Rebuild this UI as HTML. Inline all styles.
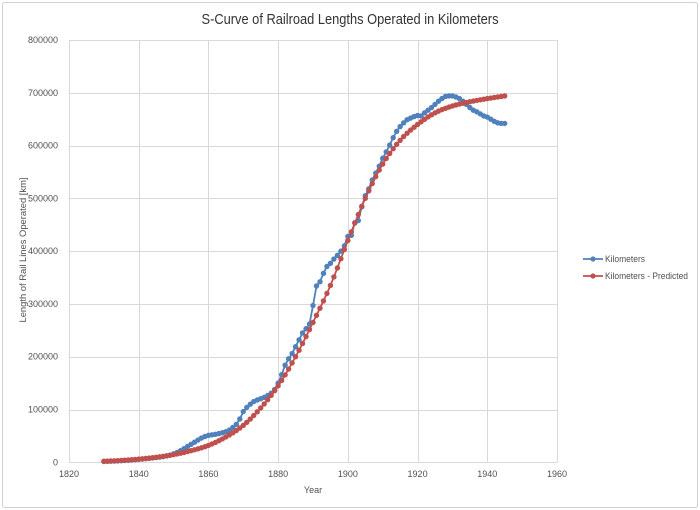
<!DOCTYPE html>
<html>
<head>
<meta charset="utf-8">
<style>
  html,body{margin:0;padding:0;background:#fff;}
  svg{display:block;}
  text{font-family:"Liberation Sans",Arial,sans-serif;}
</style>
</head>
<body>
<svg id="chart" width="700" height="510" viewBox="0 0 700 510" xmlns="http://www.w3.org/2000/svg">
  <rect x="0" y="0" width="700" height="510" fill="#ffffff"/>
  <rect x="2.5" y="2.5" width="695" height="505" rx="2" fill="#ffffff" stroke="#d0d0d0" stroke-width="1"/>
  <text x="350" y="24" font-size="15" fill="#333333" text-anchor="middle" textLength="297" lengthAdjust="spacingAndGlyphs">S-Curve of Railroad Lengths Operated in Kilometers</text>

  <g id="grid" stroke="#d9d9d9" stroke-width="1" fill="none"></g>
  <g id="ylabels" font-size="9" fill="#505050" text-anchor="end"></g>
  <g id="xlabels" font-size="9" fill="#505050" text-anchor="middle"></g>

  <text x="313" y="493" font-size="9" fill="#505050" text-anchor="middle">Year</text>
  <text transform="translate(26,250) rotate(-90)" font-size="9.5" fill="#505050" text-anchor="middle" textLength="145" lengthAdjust="spacingAndGlyphs">Length of Rail Lines Operated [km]</text>

  <g id="series"></g>

  <!-- legend -->
  <line x1="583" y1="259" x2="603" y2="259" stroke="#4F81BD" stroke-width="1.8"/>
  <circle cx="593" cy="259" r="2.6" fill="#4F81BD"/>
  <text x="605" y="262" font-size="9" fill="#505050" textLength="40" lengthAdjust="spacingAndGlyphs">Kilometers</text>
  <line x1="583" y1="276" x2="603" y2="276" stroke="#C0504D" stroke-width="1.8"/>
  <circle cx="593" cy="276" r="2.6" fill="#C0504D"/>
  <text x="605" y="279" font-size="9" fill="#505050" textLength="83" lengthAdjust="spacingAndGlyphs">Kilometers - Predicted</text>
</svg>
<script>
(function(){
  var NS="http://www.w3.org/2000/svg";
  function el(tag,attrs,parent,txt){var e=document.createElementNS(NS,tag);for(var k in attrs)e.setAttribute(k,attrs[k]);if(txt!=null)e.textContent=txt;parent.appendChild(e);return e;}
  var X=function(y){return 69+(y-1820)*488/140;};
  var Y=function(v){return 462.3-v*422.3/800000;};
  var grid=document.getElementById('grid');
  var yl=document.getElementById('ylabels');
  var xl=document.getElementById('xlabels');
  for(var v=0;v<=800000;v+=100000){
    var yy=Math.round(Y(v))+0.5;
    el('line',{x1:69,y1:yy,x2:557,y2:yy},grid);
    el('text',{x:58,y:Y(v)+3},yl,String(v));
  }
  for(var yr=1820;yr<=1960;yr+=20){
    var xx=Math.round(X(yr))+0.5;
    el('line',{x1:xx,y1:Y(800000),x2:xx,y2:Y(0)},grid);
    el('text',{x:X(yr),y:477},xl,String(yr));
  }
  function mono(xs,ys){
    var n=xs.length,d=[],m=[],i;
    for(i=0;i<n-1;i++)d.push((ys[i+1]-ys[i])/(xs[i+1]-xs[i]));
    m[0]=d[0];m[n-1]=d[n-2];
    for(i=1;i<n-1;i++){m[i]=(d[i-1]*d[i]<=0)?0:(d[i-1]+d[i])/2;}
    for(i=0;i<n-1;i++){
      if(d[i]===0){m[i]=0;m[i+1]=0;continue;}
      var a=m[i]/d[i],b=m[i+1]/d[i],s=a*a+b*b;
      if(s>9){var t=3/Math.sqrt(s);m[i]=t*a*d[i];m[i+1]=t*b*d[i];}
    }
    return function(x){
      var i=0;while(i<n-2&&x>xs[i+1])i++;
      var h=xs[i+1]-xs[i],t=(x-xs[i])/h,t2=t*t,t3=t2*t;
      return (2*t3-3*t2+1)*ys[i]+(t3-2*t2+t)*h*m[i]+(-2*t3+3*t2)*ys[i+1]+(t3-t2)*h*m[i+1];
    };
  }
  var blueK=[[1830,1500],[1835,3000],[1840,5500],[1845,9000],[1848,12000],[1850,16000],[1852,22000],[1854,30000],[1856,38000],[1858,46000],[1860,51000],[1862,53000],[1864,56000],[1866,61000],[1867,66000],[1868,72000],[1869,82000],[1870,96000],[1871,104000],[1872,110000],[1873,115000],[1874,118000],[1876,123000],[1878,131000],[1879,138000],[1880,150000],[1881,166000],[1882,184000],[1883,196000],[1884,206000],[1885,219000],[1886,232000],[1887,245000],[1888,253000],[1889,262000],[1890,297000],[1891,334000],[1892,342000],[1893,358000],[1894,371000],[1895,377000],[1896,385000],[1897,392000],[1898,400000],[1899,410000],[1900,428000],[1901,430000],[1902,454000],[1903,458000],[1904,484000],[1905,505000],[1906,518000],[1907,535000],[1908,548000],[1909,561000],[1910,576000],[1911,588000],[1912,601000],[1913,615000],[1914,627000],[1915,636000],[1916,643000],[1917,649000],[1918,652000],[1919,655000],[1920,657000],[1921,656000],[1922,662000],[1923,667000],[1924,672000],[1925,678000],[1926,684000],[1927,689000],[1928,693000],[1929,694000],[1930,694000],[1931,692000],[1932,689000],[1933,684000],[1934,678000],[1935,672000],[1936,667000],[1937,664000],[1938,660000],[1939,656000],[1940,654000],[1941,650000],[1942,646000],[1943,643000],[1944,642000],[1945,642000]];
  var redK=[[1830,2000],[1835,3500],[1840,6000],[1845,9500],[1850,14500],[1855,22000],[1860,32000],[1865,48000],[1870,70000],[1875,103000],[1880,145000],[1885,200000],[1890,265000],[1895,335000],[1900,420000],[1905,500000],[1910,565000],[1915,610000],[1920,640000],[1925,662000],[1930,675000],[1935,683000],[1940,689000],[1945,694000]];
  var ser=document.getElementById('series');
  function draw(K,color){
    var f=mono(K.map(function(p){return p[0];}),K.map(function(p){return p[1];}));
    var pts=[];
    for(var yr=1830;yr<=1945;yr++){pts.push([X(yr),Y(f(yr))]);}
    el('polyline',{points:pts.map(function(p){return p[0].toFixed(2)+','+p[1].toFixed(2);}).join(' '),fill:'none',stroke:color,'stroke-width':1.8,'stroke-linejoin':'round'},ser);
    pts.forEach(function(p){el('circle',{cx:p[0].toFixed(2),cy:p[1].toFixed(2),r:2.7,fill:color},ser);});
  }
  draw(blueK,'#4F81BD');
  draw(redK,'#C0504D');
})();
</script>
</body>
</html>
